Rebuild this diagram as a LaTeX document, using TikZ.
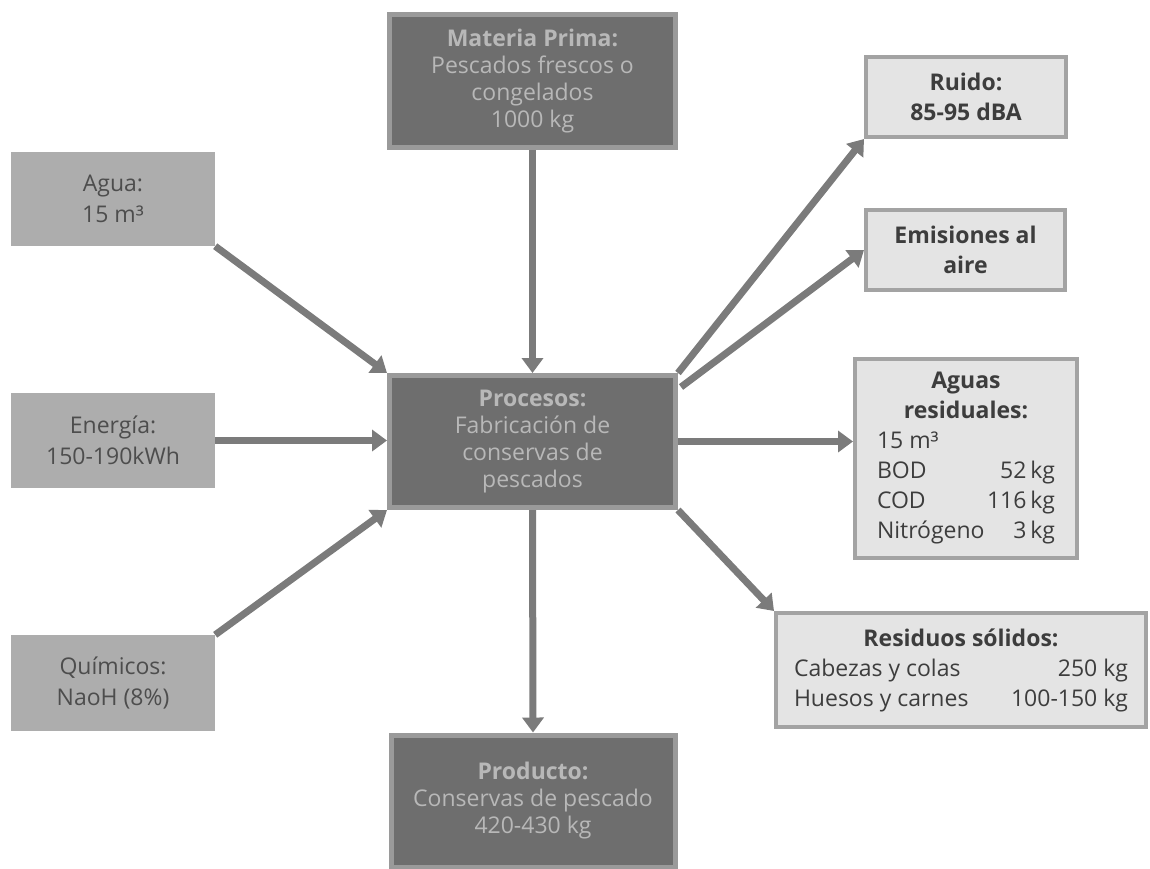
\documentclass[tikz,border=0pt]{standalone}
\usepackage{fontspec}
\setmainfont{Open Sans}
\usetikzlibrary{arrows.meta,calc}

\definecolor{darkfill}{HTML}{6E6E6E}
\definecolor{darkedge}{HTML}{9A9A9A}
\definecolor{darktext}{HTML}{B8B8B8}
\definecolor{midfill}{HTML}{ADADAD}
\definecolor{midtext}{HTML}{4D4D4D}
\definecolor{lightfill}{HTML}{E4E4E4}
\definecolor{lightedge}{HTML}{A3A3A3}
\definecolor{lighttext}{HTML}{3D3D3D}
\definecolor{flow}{HTML}{7B7B7B}

\tikzset{
  boxbase/.style={rectangle, inner sep=0pt, align=center},
  darkbox/.style={boxbase, fill=darkfill, draw=darkedge, line width=5pt,
    text=darktext, font=\fontsize{23}{27}\selectfont},
  inbox/.style={boxbase, fill=midfill, text=midtext,
    font=\fontsize{23}{31}\selectfont},
  outbox/.style={boxbase, fill=lightfill, draw=lightedge, line width=4pt,
    text=lighttext, font=\fontsize{23}{30}\selectfont},
  flowarrow/.style={draw=flow, line width=7pt,
    -{Triangle[length=15pt,width=21pt]}},
}

\begin{document}
\begin{tikzpicture}[x=1pt,y=-1pt]
\useasboundingbox (0,0) rectangle (1150,868);

% central process and main material flow
\node[darkbox, minimum width=286, minimum height=133] (mp) at (532.5,81)
  {\textbf{Materia Prima:}\\Pescados frescos o\\congelados\\1000 kg};
\node[darkbox, minimum width=286, minimum height=132] (pr) at (532.5,441.5)
  {\textbf{Procesos:}\\Fabricación de\\conservas de\\pescados};
\node[darkbox, minimum width=284, minimum height=132] (prod) at (533,801)
  {\textbf{Producto:}\\Conservas de pescado\\420-430 kg};

% inputs
\node[inbox, minimum width=204, minimum height=94] (agua) at (113,199)
  {Agua:\\15 m³};
\node[inbox, minimum width=204, minimum height=95] (ener) at (113,440.5)
  {Energía:\\150-190kWh};
\node[inbox, minimum width=204, minimum height=96] (quim) at (113,683)
  {Químicos:\\NaoH (8\%)};

% outputs
\node[outbox, minimum width=200, minimum height=80] (ruido) at (966,97)
  {\textbf{Ruido:}\\\textbf{85-95 dBA}};
\node[outbox, minimum width=199, minimum height=80] (emis) at (965.5,250)
  {\textbf{Emisiones al}\\\textbf{aire}};
\node[outbox, minimum width=222, minimum height=199] (agr) at (966,458.5)
  {\textbf{Aguas}\\\textbf{residuales:}\\
   \parbox[t]{178pt}{\raggedright 15 m³\\
     BOD\hfill 52\,kg\\
     COD\hfill 116\,kg\\
     Nitrógeno\hfill 3\,kg}};
\node[outbox, minimum width=370, minimum height=114] (res) at (961,670)
  {\textbf{Residuos sólidos:}\\
   \parbox[t]{334pt}{Cabezas y colas\hfill 250 kg\\
     Huesos y carnes\hfill 100-150 kg}};

% flows into the process
\draw[flowarrow] (mp.south) -- (pr.north);
\draw[flowarrow] (agua.south east) -- (pr.north west);
\draw[flowarrow] (ener.east) -- (ener.east -| pr.west);
\draw[flowarrow] (quim.north east) -- (pr.south west);

% flows out of the process
\draw[flowarrow] (pr.south) -- (prod.north);
\draw[flowarrow] (pr.north east) -- (ruido.south west);
\draw[flowarrow] ($(pr.north east)+(3,14)$) -- (emis.west);
\draw[flowarrow] (pr.east) -- (pr.east -| agr.west);
\draw[flowarrow] (pr.south east) -- (res.north west);
\end{tikzpicture}
\end{document}
